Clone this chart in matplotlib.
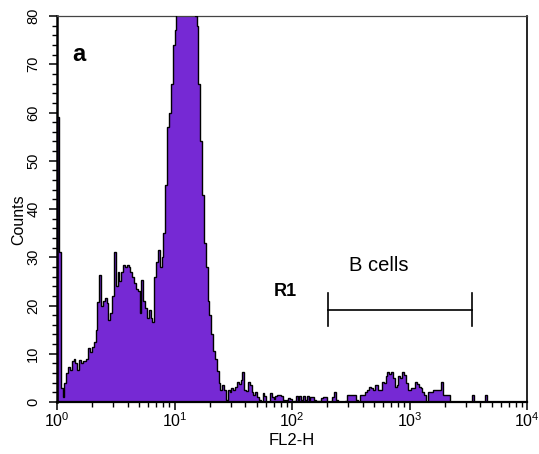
import numpy as np
import matplotlib
matplotlib.use("Agg")
import matplotlib.pyplot as plt
from matplotlib.ticker import FixedLocator, FixedFormatter, MultipleLocator, LogLocator, NullFormatter

plt.rcParams['font.family'] = ['Liberation Sans', 'DejaVu Sans']
plt.rcParams['mathtext.fontset'] = 'custom'
plt.rcParams['mathtext.rm'] = 'Liberation Sans'
plt.rcParams['mathtext.default'] = 'regular'

# ---- data -------------------------------------------------------------
# FL2-H histogram, 64 channels per decade from 10^0 to 10^4 (256 channels)
counts = [
    59, 31, 2.8, 1.1, 4, 6, 7.3, 6.6, 8.5, 9,
    8, 6.6, 8.7, 8, 8.4, 8.4, 9, 11.1, 10.4, 11.5,
    12.5, 15, 20.8, 26.3, 20, 21, 21.5, 20.5, 17, 18.5,
    22, 31, 24, 27, 25, 27, 28.4, 28, 28.4, 28,
    27, 26, 24.6, 23.5, 23, 18.5, 25.3, 21, 19.5, 17.5,
    19, 17.5, 16.5, 26, 29, 31.5, 28, 30, 35, 45,
    57, 60, 66, 74, 77, 84, 88, 91, 94, 96,
    95, 93, 90, 86, 82, 80, 78, 66, 54, 43,
    33, 28, 21, 18, 14, 10.5, 9, 6.5, 4, 2.5,
    3.5, 2.5, 0.4, 2.5, 2, 3, 2.5, 3.2, 4.2, 3.8,
    4.5, 6.3, 2.5, 2.2, 4.2, 3.5, 2, 1.5, 2, 1,
    0.5, 0, 1.8, 1.2, 0, 0, 1.8, 1, 0.6, 1.2,
    1.5, 1.5, 1.2, 0.5, 0.3, 0.5, 0.8, 0.6, 0, 0.3,
    1.2, 0.4, 1.3, 0.5, 1.3, 0.5, 1.3, 0.4, 1, 1,
    0.4, 0.2, 0.3, 0.2, 0.8, 1, 1, 0, 0, 0.2,
    1, 2, 0.5, 0, 0, 0, 0, 0.3, 1.5, 1.5,
    1.5, 1.5, 1.5, 0.5, 0, 1.5, 1.5, 1.5, 2, 2.5,
    3.2, 2.8, 2.5, 3.5, 3.5, 2.5, 2.5, 4.2, 4, 5.3,
    6.3, 5.8, 6.3, 5, 3.2, 3.5, 5.3, 5, 6.3, 5.5,
    3.9, 2.5, 2.5, 2.8, 3, 4.2, 3.8, 3.2, 3, 2.1,
    1.5, 0, 2.1, 2.1, 2.1, 2.5, 2.5, 2.5, 2.5, 4.2,
    1.5, 1.5, 1.5, 1.5, 0, 0, 0, 0, 0, 0,
    0, 0, 0, 0, 0, 0, 1.5, 0, 0, 0,
    0, 0, 0, 1.5, 0, 0, 0, 0, 0, 0,
    0, 0, 0, 0, 0, 0, 0, 0, 0, 0,
    0, 0, 0, 0, 0, 0,
]
channels_per_decade = 64
x_range = [1, 1e4]
y_range = [0, 80]
x_ticks = [1, 10, 100, 1000, 10000]
x_tick_labels = [r'$\mathregular{10^{0}}$', r'$\mathregular{10^{1}}$',
                 r'$\mathregular{10^{2}}$', r'$\mathregular{10^{3}}$',
                 r'$\mathregular{10^{4}}$']
y_ticks = [0, 10, 20, 30, 40, 50, 60, 70, 80]
y_tick_labels = ['0', '10', '20', '30', '40', '50', '60', '70', '80']
gate_name = 'R1'
gate_label = 'B cells'
gate_range = [201, 3383]
gate_level = 19.1
panel_label = 'a'
x_label = 'FL2-H'
y_label = 'Counts'

# ---- figure -----------------------------------------------------------
fig = plt.figure(figsize=(5.39, 4.54), dpi=100)
ax = fig.add_axes([57 / 539, 1 - 402 / 454, 470 / 539, 386 / 454])

edges = 10 ** (np.arange(len(counts) + 1) / channels_per_decade)
purple = '#7629D4'
ax.stairs(counts, edges, fill=True, color=purple, zorder=2)
ax.stairs(counts, edges, fill=False, color='black', lw=1.0, zorder=3)

ax.set_xscale('log')
ax.set_xlim(*x_range)
ax.set_ylim(*y_range)

ax.xaxis.set_major_locator(FixedLocator(x_ticks))
ax.xaxis.set_major_formatter(FixedFormatter(x_tick_labels))
ax.xaxis.set_minor_locator(LogLocator(base=10, subs=np.arange(2, 10)))
ax.xaxis.set_minor_formatter(NullFormatter())
ax.yaxis.set_major_locator(FixedLocator(y_ticks))
ax.yaxis.set_major_formatter(FixedFormatter(y_tick_labels))
ax.yaxis.set_minor_locator(MultipleLocator(2))

ax.tick_params(axis='both', which='major', direction='out', length=6, width=1.1, color='black')
ax.tick_params(axis='both', which='minor', direction='out', length=3.5, width=1.0, color='black')
ax.tick_params(axis='x', which='major', labelsize=11.5, pad=1)
ax.tick_params(axis='y', which='major', labelsize=10.5, pad=6)
for lab in ax.get_yticklabels():
    lab.set_rotation(90)
    lab.set_va('center')

ax.spines['left'].set_linewidth(1.8)
ax.spines['bottom'].set_linewidth(1.6)
ax.spines['right'].set_linewidth(1.2)
ax.spines['top'].set_linewidth(0.9)
ax.spines['top'].set_color('#444444')

ax.set_xlabel(x_label, fontsize=12)
ax.xaxis.set_label_coords(0.5, -0.08)
ax.set_ylabel(y_label, fontsize=11.5)
ax.yaxis.set_label_coords(-0.066, 0.472)

# gate
ax.plot(gate_range, [gate_level, gate_level], color='black', lw=1.2, zorder=4)
for gx in gate_range:
    ax.plot([gx, gx], [gate_level - 3.4, gate_level + 3.4], color='black', lw=1.2, zorder=4)
ax.text(np.sqrt(gate_range[0] * gate_range[1]) * 0.67, 28.3, gate_label,
        fontsize=14.5, ha='center', va='center')
ax.text(88, 22.8, gate_name, fontsize=13, fontweight='bold', ha='center', va='center')
ax.text(0.047, 0.899, panel_label, transform=ax.transAxes, fontsize=17,
        fontweight='bold', ha='center', va='center')

fig.savefig('out.png', dpi=100)
